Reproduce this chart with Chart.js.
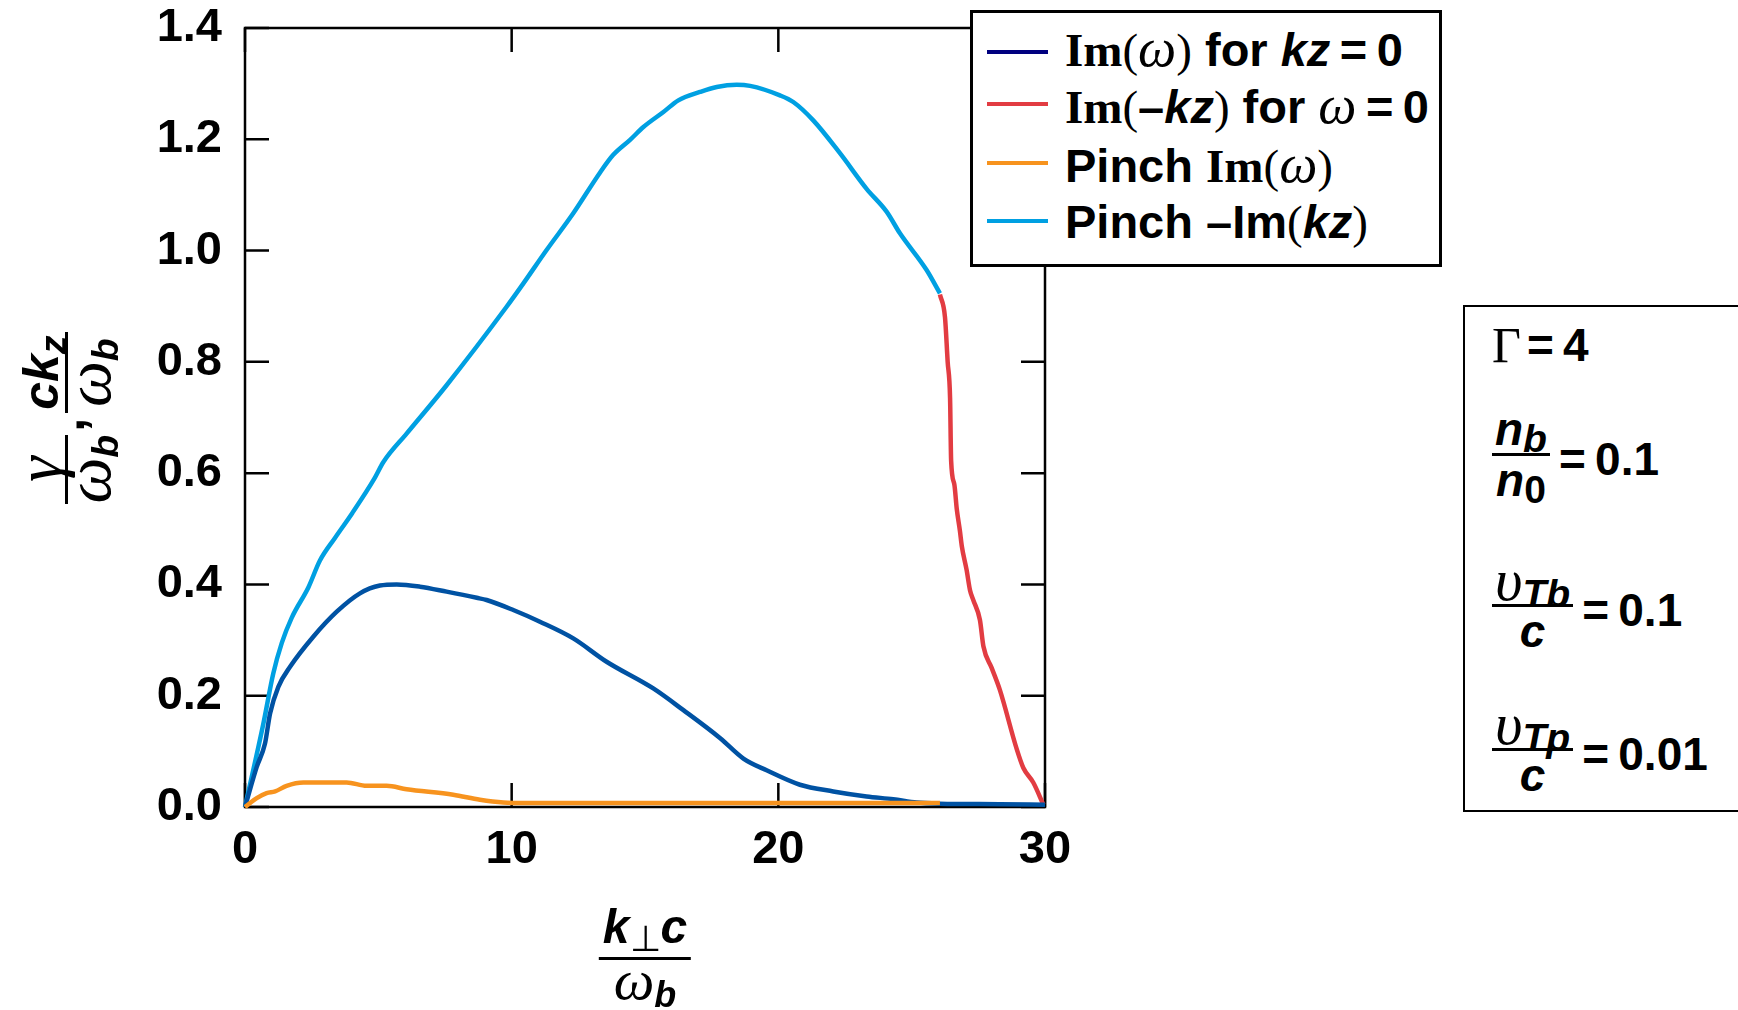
<!DOCTYPE html>
<html>
<head>
<meta charset="utf-8">
<script src="https://cdn.jsdelivr.net/npm/chart.js@4.4.1/dist/chart.umd.min.js"></script>
<style>
  body { margin: 0; background: #fff; }
  #page { position: relative; width: 1738px; height: 1010px; overflow: hidden; background: #fff; font-family: 'Liberation Sans', Arial, sans-serif; font-weight: bold; color: #000; }
  #chart { position: absolute; left: 0; top: 0; }
  .serif { font-family: 'Liberation Serif', 'Times New Roman', serif; }
  .gr { font-family: 'Liberation Serif', 'Times New Roman', serif; font-style: italic; font-weight: normal; font-size: 1.2em; }
  .it { font-style: italic; }
  .frac { display: inline-flex; flex-direction: column; align-items: center; }
  .frac .bar { align-self: stretch; height: 3px; background: #000; }
  .frac .num, .frac .den { display: block; white-space: nowrap; }
  sub { font-size: 0.75em; vertical-align: -0.22em; line-height: 0; }
  #legend { position: absolute; left: 970px; top: 10px; width: 472px; height: 257px; box-sizing: border-box; border: 3px solid #000; background: #fff; }
  #legend .sample { position: absolute; left: 14px; width: 61px; height: 4px; }
  #legend .txt { position: absolute; left: 92px; font-size: 47px; line-height: 50px; height: 50px; white-space: nowrap; }
  #legend .gr { font-size: 1.15em; line-height: 50px; }
  #params { position: absolute; left: 1463px; top: 305px; width: 320px; height: 507px; box-sizing: border-box; border: 2.5px solid #000; background: #fff; }
  #params .row { position: absolute; left: 27px; display: flex; align-items: center; font-size: 46px; white-space: nowrap; }
  #params .num, #params .den { height: 48px; line-height: 48px; padding: 0 3px; }
  #params .gr { font-size: 1.3em; line-height: 48px; }
  #params sub { font-size: 0.85em; vertical-align: -0.18em; }
  #params .eq { line-height: 48px; margin-left: 9px; padding-top: 8px; }
  #xtitle { position: absolute; left: 645px; top: 899px; transform: translateX(-50%); font-size: 48px; }
  #xtitle .num { height: 48px; line-height: 36px; padding: 0 4px; }
  #xtitle .den { height: 46px; line-height: 40px; }
  #xtitle .gr { line-height: 40px; }
  #ytitle { position: absolute; left: -18px; top: 368px; width: 170px; height: 100px; display: flex; align-items: center; justify-content: center; transform: rotate(-90deg); font-size: 50px; }
  #ytitle .num { height: 46px; line-height: 44px; padding: 0 3px; }
  #ytitle .den { height: 48px; line-height: 40px; }
  #ytitle .gr { font-size: 1.3em; line-height: 40px; }
</style>
</head>
<body>
<div id="page">
  <canvas id="chart" width="1738" height="1010"></canvas>

  <div id="ytitle">
    <span class="frac"><span class="num"><span class="gr">γ</span></span><span class="bar"></span><span class="den"><span class="gr">ω</span><sub class="it">b</sub></span></span><span style="margin:0 5px 0 3px;line-height:50px;align-self:center">,</span><span class="frac"><span class="num"><span class="it">ck</span><sub class="it">z</sub></span><span class="bar"></span><span class="den"><span class="gr">ω</span><sub class="it">b</sub></span></span>
  </div>

  <div id="xtitle">
    <span class="frac"><span class="num"><span class="it">k</span><sub style="font-weight:normal">⊥</sub><span class="it">c</span></span><span class="bar"></span><span class="den"><span class="gr">ω</span><sub class="it">b</sub></span></span>
  </div>

  <div id="legend">
    <div class="sample" style="top:37px;background:#00007f"></div>
    <div class="txt" style="top:10px"><span class="serif">Im</span><span class="serif" style="font-weight:normal">(</span><span class="gr">ω</span><span class="serif" style="font-weight:normal">)</span> for <span class="it">kz</span>&#8201;=&#8201;0</div>
    <div class="sample" style="top:89px;background:#e23c42"></div>
    <div class="txt" style="top:67px"><span class="serif">Im</span><span class="serif" style="font-weight:normal">(</span>–<span class="it">kz</span><span class="serif" style="font-weight:normal">)</span> for <span class="gr">ω</span>&#8201;=&#8201;0</div>
    <div class="sample" style="top:148px;background:#f7931e"></div>
    <div class="txt" style="top:126px">Pinch <span class="serif">Im</span><span class="serif" style="font-weight:normal">(</span><span class="gr">ω</span><span class="serif" style="font-weight:normal">)</span></div>
    <div class="sample" style="top:206px;background:#00a0e2"></div>
    <div class="txt" style="top:184px">Pinch –Im<span class="serif" style="font-weight:normal">(</span><span class="it">kz</span><span class="serif" style="font-weight:normal">)</span></div>
  </div>

  <div id="params">
    <div class="row" style="top:14px;height:48px"><span class="serif" style="font-weight:normal;font-size:50px;line-height:48px">Γ</span><span class="eq" style="padding-top:0;margin-left:6px">=&#8201;4</span></div>
    <div class="row" style="top:98px"><span class="frac"><span class="num"><span class="it">n</span><sub class="it">b</sub></span><span class="bar"></span><span class="den"><span class="it">n</span><sub>0</sub></span></span><span class="eq">=&#8201;0.1</span></div>
    <div class="row" style="top:249px"><span class="frac"><span class="num"><span class="gr">υ</span><sub class="it">Tb</sub></span><span class="bar"></span><span class="den it">c</span></span><span class="eq">=&#8201;0.1</span></div>
    <div class="row" style="top:393px"><span class="frac"><span class="num"><span class="gr">υ</span><sub class="it">Tp</sub></span><span class="bar"></span><span class="den it">c</span></span><span class="eq">=&#8201;0.01</span></div>
  </div>
</div>

<script>
// k⊥c/ωb values and growth rates
const imOmegaK = [0, 0.44, 0.75, 0.94, 1.25, 1.69, 2.56, 3.44, 4.31, 5.06, 5.69, 6.56, 7.56, 8.69, 9.06, 10.06, 11.06, 12.31, 13.56, 15.31, 16.44, 17.81, 18.69, 19.56, 20.81, 22.06, 23.31, 24.31, 25.19, 26.06, 28.3, 30];
const imOmegaV = [0, 0.072, 0.114, 0.168, 0.216, 0.252, 0.306, 0.351, 0.384, 0.398, 0.400, 0.396, 0.387, 0.376, 0.372, 0.354, 0.333, 0.303, 0.261, 0.213, 0.174, 0.124, 0.087, 0.066, 0.040, 0.028, 0.019, 0.014, 0.008, 0.006, 0.005, 0.004];

const imKzK = [26.06, 26.25, 26.35, 26.44, 26.48, 26.6, 26.69, 26.81, 26.88, 27.06, 27.19, 27.31, 27.56, 27.69, 28.0, 28.31, 28.94, 29.19, 29.56, 29.94];
const imKzV = [0.921, 0.88, 0.80, 0.735, 0.622, 0.58, 0.536, 0.496, 0.469, 0.426, 0.389, 0.372, 0.336, 0.289, 0.25, 0.210, 0.104, 0.070, 0.044, 0.004];

const pinchOmegaK = [0, 0.44, 0.81, 1.13, 1.56, 2.19, 3.81, 4.56, 5.31, 6.06, 7.81, 8.81, 9.69, 10.5, 26.06];
const pinchOmegaV = [0, 0.016, 0.025, 0.028, 0.038, 0.044, 0.044, 0.038, 0.038, 0.032, 0.022, 0.013, 0.008, 0.007, 0.007];

const pinchKzK = [0, 0.69, 1.06, 1.38, 1.75, 2.38, 2.81, 3.38, 4.02, 4.85, 5.19, 6.06, 7.56, 9.81, 10.44, 11.31, 12.31, 13.31, 13.81, 14.44, 14.94, 15.69, 16.25, 17.06, 17.69, 18.44, 18.94, 20.06, 20.56, 21.31, 22.31, 23.31, 24.06, 24.56, 25.56, 26.06];
const pinchKzV = [0, 0.150, 0.240, 0.295, 0.340, 0.395, 0.443, 0.484, 0.528, 0.590, 0.620, 0.671, 0.758, 0.899, 0.941, 1.001, 1.067, 1.140, 1.172, 1.199, 1.222, 1.249, 1.270, 1.285, 1.294, 1.298, 1.296, 1.279, 1.267, 1.234, 1.175, 1.111, 1.070, 1.031, 0.965, 0.923];

const xTickValues = [0, 10, 20, 30];
const yTickValues = [0, 0.2, 0.4, 0.6, 0.8, 1.0, 1.2, 1.4];

const pts = (ks, vs) => ks.map((k, i) => ({ x: k, y: vs[i] }));

const line = (label, ks, vs, color) => ({
  label: label,
  data: pts(ks, vs),
  borderColor: color,
  borderWidth: 4.5,
  pointRadius: 0,
  cubicInterpolationMode: 'monotone',
  clip: 6,
});

// box with inward ticks on all four sides
const framePlugin = {
  id: 'frame',
  beforeDatasetsDraw(chart) {
    const { ctx, chartArea: a, scales: { x, y } } = chart;
    const len = 24;
    ctx.save();
    ctx.strokeStyle = '#000';
    ctx.lineWidth = 2.5;
    ctx.strokeRect(a.left, a.top, a.right - a.left, a.bottom - a.top);
    ctx.beginPath();
    xTickValues.forEach(v => {
      const px = x.getPixelForValue(v);
      ctx.moveTo(px, a.bottom); ctx.lineTo(px, a.bottom - len);
      ctx.moveTo(px, a.top); ctx.lineTo(px, a.top + len);
    });
    yTickValues.forEach(v => {
      const py = y.getPixelForValue(v);
      ctx.moveTo(a.left, py); ctx.lineTo(a.left + len, py);
      ctx.moveTo(a.right, py); ctx.lineTo(a.right - len, py);
    });
    ctx.stroke();
    ctx.restore();
  }
};

const tickFont = { family: "'Liberation Sans', Arial, sans-serif", size: 47, weight: 'bold' };

new Chart(document.getElementById('chart').getContext('2d'), {
  type: 'line',
  data: {
    datasets: [
      line('Pinch Im(ω)', pinchOmegaK, pinchOmegaV, '#f7931e'),
      line('Im(ω) for kz=0', imOmegaK, imOmegaV, '#0052a3'),
      line('Im(–kz) for ω=0', imKzK, imKzV, '#e23c42'),
      line('Pinch –Im(kz)', pinchKzK, pinchKzV, '#00a0e2'),
    ],
  },
  options: {
    responsive: false,
    animation: false,
    layout: { padding: { left: 0, top: 28, right: 693, bottom: 0 } },
    plugins: { legend: { display: false }, tooltip: { enabled: false } },
    scales: {
      x: {
        type: 'linear',
        min: 0,
        max: 30,
        grid: { display: false, drawTicks: false },
        border: { display: false },
        ticks: { stepSize: 10, padding: 15, color: '#000', font: tickFont },
        afterFit: s => { s.height = 203; s.paddingLeft = 0; s.paddingRight = 0; },
      },
      y: {
        min: 0,
        max: 1.4,
        grid: { display: false, drawTicks: false },
        border: { display: false },
        ticks: { stepSize: 0.2, padding: 23, color: '#000', font: tickFont, callback: v => v.toFixed(1) },
        afterFit: s => { s.width = 245; s.paddingTop = 0; s.paddingBottom = 0; },
      },
    },
  },
  plugins: [framePlugin],
});
</script>
</body>
</html>
